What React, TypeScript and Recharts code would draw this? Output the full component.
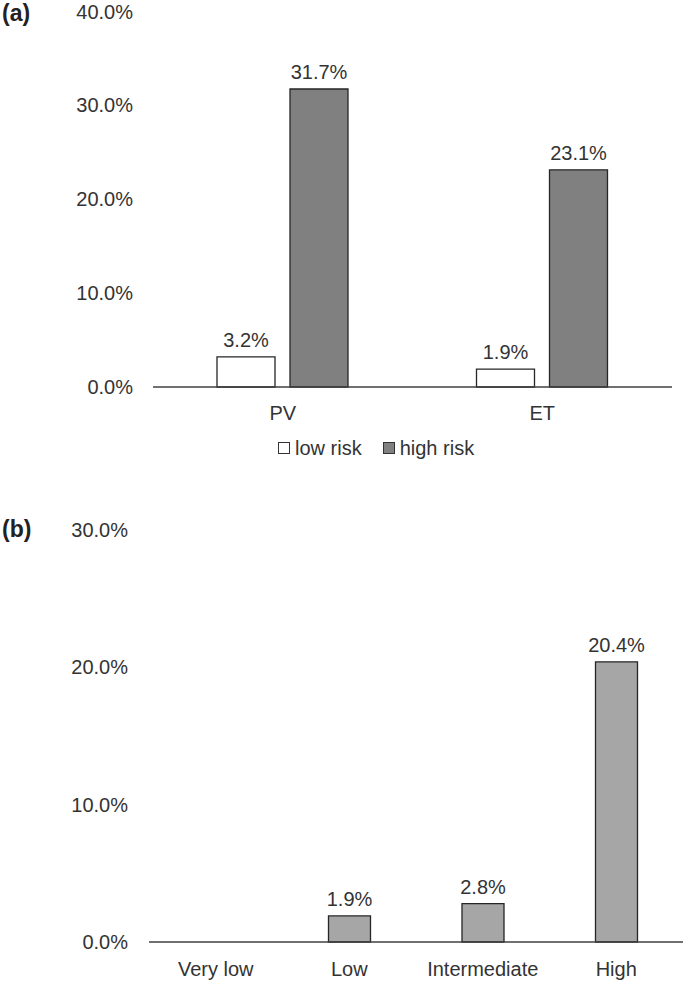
import React from 'react';
import { BarChart, Bar, XAxis, YAxis, Legend, LabelList } from 'recharts';

// panel (a): thrombosis rate by disease and risk group
const diseases = ['PV', 'ET'];
const lowRisk = [0.032, 0.019];
const highRisk = [0.317, 0.231];
const ticksA = [0, 0.1, 0.2, 0.3, 0.4];
const seriesNames = ['low risk', 'high risk'];

// panel (b): by IPSET category
const categories = ['Very low', 'Low', 'Intermediate', 'High'];
const rates: (number | null)[] = [null, 0.019, 0.028, 0.204];
const ticksB = [0, 0.1, 0.2, 0.3];

const dataA = diseases.map((d, i) => ({ name: d, low: lowRisk[i], high: highRisk[i] }));
const dataB = categories.map((c, i) => ({ name: c, rate: rates[i] }));

const FONT = '"Liberation Sans", Arial, sans-serif';
const TEXT = '#333333';
const pct = (v: any) => (v == null ? '' : `${(Number(v) * 100).toFixed(1)}%`);

const tickStyle = { fill: TEXT, fontSize: 20, fontFamily: FONT };

const renderLegend = (props: any) => {
  const payload = [...(props.payload || [])].sort(
    (a: any, b: any) => seriesNames.indexOf(a.value) - seriesNames.indexOf(b.value)
  );
  return (
    <div style={{ display: 'flex', alignItems: 'center', height: 26, paddingLeft: 278, fontFamily: FONT, fontSize: 20, color: TEXT }}>
      {payload.map((entry: any, i: number) => {
        const fill = entry.payload?.fill ?? entry.color;
        return (
          <span key={i} style={{ display: 'flex', alignItems: 'center', marginRight: 21 }}>
            <span style={{ display: 'inline-block', width: 10, height: 10, background: fill, border: '1px solid #333', marginRight: 5 }} />
            {entry.value}
          </span>
        );
      })}
    </div>
  );
};

const panelLabel = (top: number): React.CSSProperties => ({
  position: 'absolute', left: 2, top, fontFamily: FONT, fontWeight: 'bold', fontSize: 23, color: '#222',
});

export default function App() {
  return (
    <div style={{ position: 'absolute', left: 0, top: 0, width: 685, height: 983, background: '#fff' }}>
      <div style={panelLabel(0)}>(a)</div>
      <BarChart width={685} height={480} data={dataA} margin={{ top: 11, right: 13, left: 0, bottom: 19 }} barSize={58} barGap={15}>
        <XAxis dataKey="name" height={48} tickLine={false} tickSize={0} tickMargin={19} tick={tickStyle}
          axisLine={{ stroke: '#404040', strokeWidth: 1.5 }} />
        <YAxis width={153} domain={[0, 0.4]} ticks={ticksA} tickFormatter={pct} axisLine={false} tickLine={false}
          tickSize={0} tickMargin={20} tick={tickStyle} />
        <Legend verticalAlign="bottom" content={renderLegend} itemSorter={null as any} wrapperStyle={{ left: 0, width: 685 }} />
        <Bar dataKey="low" name="low risk" fill="#ffffff" stroke="#262626" strokeWidth={1.3} isAnimationActive={false}>
          <LabelList dataKey="low" position="top" offset={10} formatter={pct} style={tickStyle} />
        </Bar>
        <Bar dataKey="high" name="high risk" fill="#808080" stroke="#262626" strokeWidth={1.3} isAnimationActive={false}>
          <LabelList dataKey="high" position="top" offset={10} formatter={pct} style={tickStyle} />
        </Bar>
      </BarChart>
      <div style={panelLabel(516)}>(b)</div>
      <BarChart width={685} height={503} data={dataB} margin={{ top: 50, right: 2, left: 0, bottom: 0 }} barSize={42}>
        <XAxis dataKey="name" height={41} tickLine={false} tickSize={0} tickMargin={20} tick={tickStyle}
          axisLine={{ stroke: '#404040', strokeWidth: 1.5 }} interval={0} />
        <YAxis width={149} domain={[0, 0.3]} ticks={ticksB} tickFormatter={pct} axisLine={false} tickLine={false}
          tickSize={0} tickMargin={21} tick={tickStyle} />
        <Bar dataKey="rate" fill="#a6a6a6" stroke="#262626" strokeWidth={1.3} isAnimationActive={false}>
          <LabelList dataKey="rate" position="top" offset={10} formatter={pct} style={tickStyle} />
        </Bar>
      </BarChart>
    </div>
  );
}
